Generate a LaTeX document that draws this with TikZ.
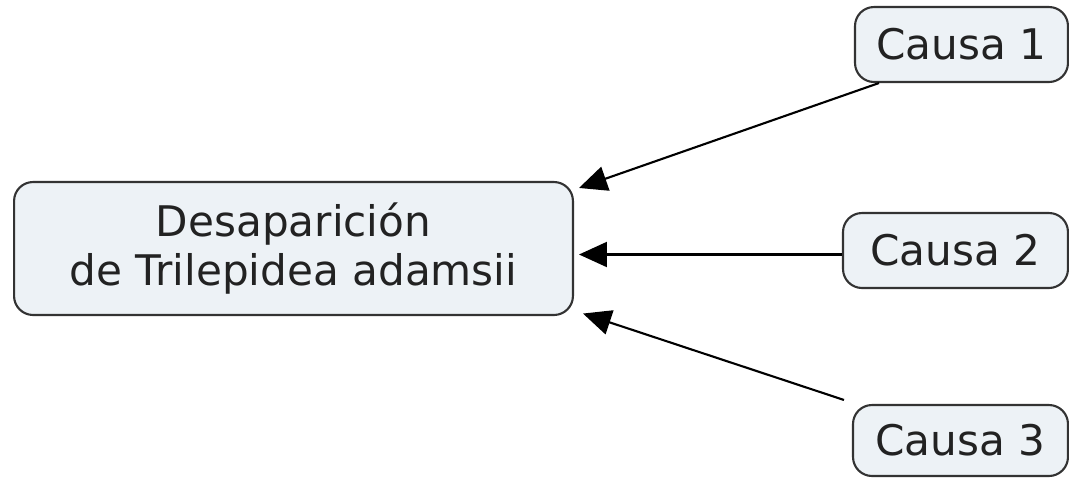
\documentclass[tikz,border=0pt]{standalone}
\usepackage{fontspec}
\setmainfont{DejaVu Sans}
\usetikzlibrary{arrows.meta}
\definecolor{boxfill}{HTML}{EDF2F6}
\definecolor{boxline}{HTML}{333333}
\definecolor{boxtext}{HTML}{222222}
\begin{document}
\begin{tikzpicture}[x=0.02cm,y=-0.02cm,
    concept/.style={draw=boxline,line width=1.2pt,fill=boxfill,rounded corners=0.38cm,
      inner sep=0pt,align=center,text=boxtext,font=\fontsize{24}{27.5}\selectfont},
    link/.style={line width=1.2pt,-{Triangle[length=0.56cm,width=0.5cm]}}]
    \useasboundingbox (0,0) rectangle (1069,478);
    \node[concept,minimum width=11.18cm,minimum height=2.66cm] (main) at (293.5,248.5) {Desaparición\\de Trilepidea adamsii};
    \node[concept,minimum width=4.26cm,minimum height=1.5cm] (c1) at (961.5,44.5) {Causa 1};
    \node[concept,minimum width=4.5cm,minimum height=1.5cm] (c2) at (955.5,250.5) {Causa 2};
    \node[concept,minimum width=4.3cm,minimum height=1.42cm] (c3) at (960.5,440.5) {Causa 3};
    \coordinate (c2out) at ([yshift=-0.08cm]c2.west);
    \draw[link] ([xshift=0.5cm]c1.south west) -- ([xshift=0.1cm,yshift=-0.14cm]main.north east);
    \draw[link] (c2out) -- ([xshift=0.1cm]main.east |- c2out);
    \draw[link] ([xshift=-0.16cm,yshift=0.08cm]c3.north west) -- ([xshift=0.18cm,yshift=0.05cm]main.south east);
\end{tikzpicture}
\end{document}
